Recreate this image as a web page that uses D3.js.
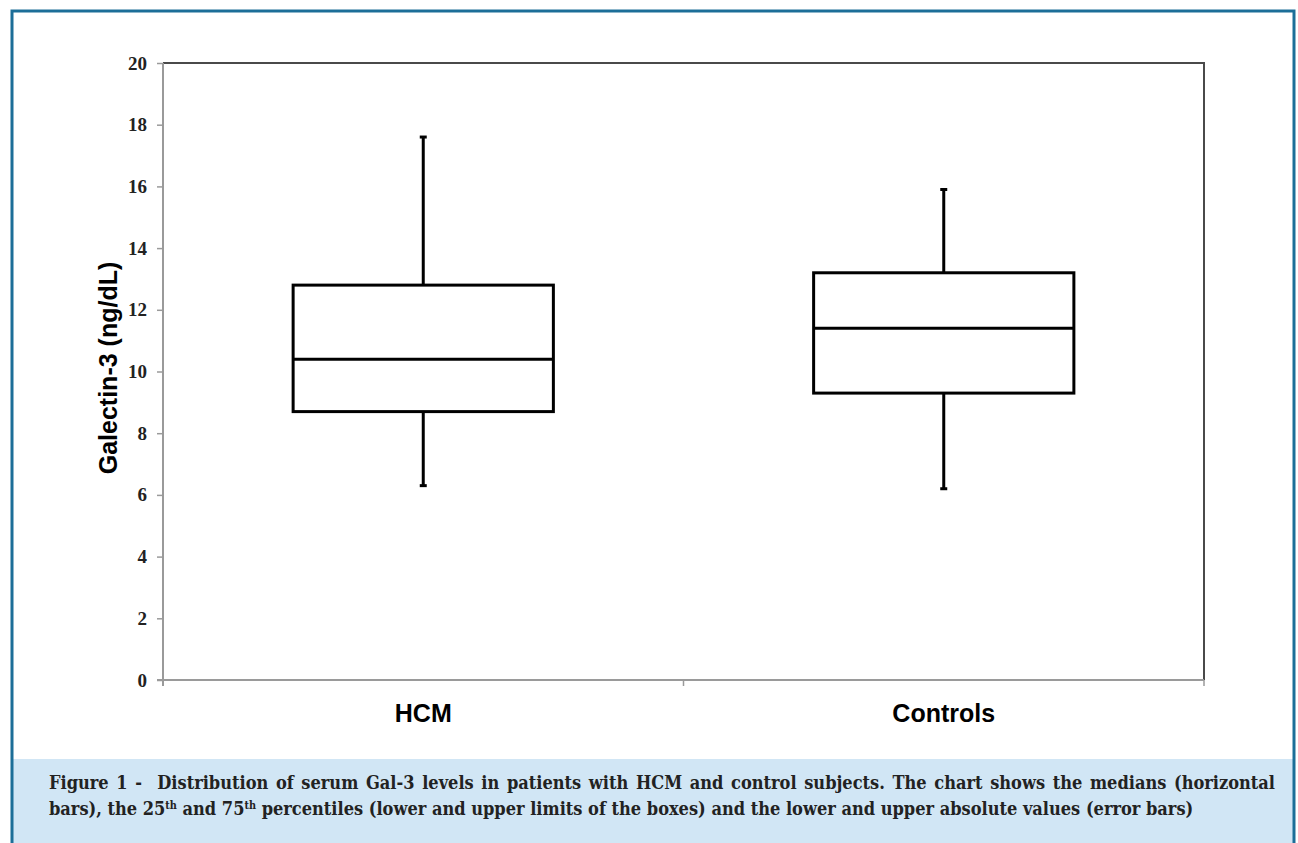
<!doctype html>
<html lang="en">
<head>
<meta charset="UTF-8">
<title>Galectin-3 box plot</title>
<style>
  body { margin: 0; background: #fff; }
  svg { display: block; }
</style>
</head>
<body>
<svg id="chart" width="1298" height="843"></svg>
<script src="https://d3js.org/d3.v7.min.js"></script>
<script>
    // values (ng/dL)
    let groups = ["HCM", "Controls"];
    let minVals = [6.3, 6.2];
    let q1Vals = [8.7, 9.3];
    let medians = [10.4, 11.4];
    let q3Vals = [12.8, 13.2];
    let maxVals = [17.6, 15.9];
    let yTicks = [0, 2, 4, 6, 8, 10, 12, 14, 16, 18, 20];

    let data = groups.map((g, i) => ({
        name: g, min: minVals[i], q1: q1Vals[i], med: medians[i], q3: q3Vals[i], max: maxVals[i]
    }));

    let svg = d3.select("#chart"),
        margin = {top: 63, right: 94, bottom: 163, left: 163},
        width = +svg.attr("width"),
        height = +svg.attr("height");

    // outer frame + caption band
    svg.append("rect")
        .attr("x", 0).attr("y", 0).attr("width", width).attr("height", height)
        .attr("fill", "#fff");
    svg.append("rect")
        .attr("x", 13).attr("y", 759).attr("width", 1280).attr("height", 90)
        .attr("fill", "#d1e6f5");
    svg.append("rect")
        .attr("x", 12).attr("y", 11).attr("width", 1282).attr("height", 850)
        .attr("fill", "none")
        .attr("stroke", "#1c6e98")
        .attr("stroke-width", 3);

    let x = d3.scaleBand()
        .domain(groups)
        .range([margin.left, width - margin.right]);

    let y = d3.scaleLinear()
        .domain([0, 20])
        .range([height - margin.bottom, margin.top]);

    // top and right frame of the plot
    svg.append("path")
        .attr("d", "M" + margin.left + "," + y(20) + "H" + (width - margin.right) + "V" + y(0))
        .attr("fill", "none")
        .attr("stroke", "#4a4a4a")
        .attr("stroke-width", 2);

    // y axis
    let yAxis = svg.append("g")
        .attr("transform", "translate(" + margin.left + ",0)")
        .call(d3.axisLeft(y).tickValues(yTicks).tickSize(6).tickSizeOuter(0).tickPadding(10));
    yAxis.select(".domain").remove();
    yAxis.append("line")
        .attr("x1", 0).attr("x2", 0)
        .attr("y1", y(20)).attr("y2", y(0) + 6)
        .attr("stroke", "#9a9a9a").attr("stroke-width", 2);
    yAxis.selectAll(".tick line").attr("stroke", "#9a9a9a").attr("stroke-width", 1.5);
    yAxis.selectAll(".tick text")
        .attr("fill", "#222")
        .attr("font-family", "'Liberation Serif', 'Times New Roman', serif")
        .attr("font-weight", "bold")
        .attr("font-size", "19px");

    // x axis, ticks on band edges
    let xAxis = svg.append("g")
        .attr("transform", "translate(0," + y(0) + ")");
    xAxis.append("line")
        .attr("x1", margin.left - 6).attr("x2", width - margin.right)
        .attr("stroke", "#9a9a9a").attr("stroke-width", 2);
    let edges = groups.map(g => x(g)).concat([x(groups[groups.length - 1]) + x.bandwidth()]);
    xAxis.selectAll(".edge")
        .data(edges)
        .enter().append("line")
        .attr("x1", d => d).attr("x2", d => d)
        .attr("y1", 0).attr("y2", 6)
        .attr("stroke", "#9a9a9a").attr("stroke-width", 1.5);
    xAxis.selectAll(".lbl")
        .data(groups)
        .enter().append("text")
        .attr("x", d => x(d) + x.bandwidth() / 2)
        .attr("y", 42)
        .attr("text-anchor", "middle")
        .attr("font-family", "'Liberation Sans', Arial, sans-serif")
        .attr("font-weight", "bold")
        .attr("font-size", "25px")
        .attr("fill", "#000")
        .text(d => d);

    // y label
    svg.append("text")
        .attr("transform", "translate(117,368) rotate(-90)")
        .attr("text-anchor", "middle")
        .attr("font-family", "'Liberation Sans', Arial, sans-serif")
        .attr("font-weight", "bold")
        .attr("font-size", "25px")
        .attr("fill", "#000")
        .text("Galectin-3 (ng/dL)");

    // boxes
    let boxW = x.bandwidth() / 2;
    let capW = 7;
    let box = svg.append("g")
        .selectAll("g")
        .data(data)
        .enter().append("g")
        .attr("fill", "none")
        .attr("stroke", "#000")
        .attr("stroke-width", 3);

    box.append("line")
        .attr("x1", d => x(d.name) + x.bandwidth() / 2)
        .attr("x2", d => x(d.name) + x.bandwidth() / 2)
        .attr("y1", d => y(d.max))
        .attr("y2", d => y(d.min));
    box.append("rect")
        .attr("x", d => x(d.name) + (x.bandwidth() - boxW) / 2)
        .attr("width", boxW)
        .attr("y", d => y(d.q3))
        .attr("height", d => y(d.q1) - y(d.q3))
        .attr("fill", "#fff");
    box.append("line")
        .attr("x1", d => x(d.name) + (x.bandwidth() - boxW) / 2)
        .attr("x2", d => x(d.name) + (x.bandwidth() + boxW) / 2)
        .attr("y1", d => y(d.med))
        .attr("y2", d => y(d.med));
    ["max", "min"].forEach(function (k) {
        box.append("line")
            .attr("x1", d => x(d.name) + x.bandwidth() / 2 - capW / 2)
            .attr("x2", d => x(d.name) + x.bandwidth() / 2 + capW / 2)
            .attr("y1", d => y(d[k]))
            .attr("y2", d => y(d[k]));
    });

    // caption: justified first line, second line at natural width
    const capFont = "'DejaVu Serif Condensed', 'DejaVu Serif', serif";
    const line1 = "Figure 1 -  Distribution of serum Gal-3 levels in patients with HCM and control subjects. The chart shows the medians (horizontal";
    let l1 = svg.append("text")
        .attr("x", 49).attr("y", 789)
        .attr("font-family", capFont)
        .attr("font-stretch", "condensed")
        .attr("font-weight", "bold")
        .attr("font-size", "16px")
        .attr("fill", "#222")
        .attr("xml:space", "preserve")
        .text(line1);
    let fs = 16 * 1185 / l1.node().getComputedTextLength();
    l1.attr("font-size", fs + "px");
    let w1 = l1.node().getComputedTextLength();
    let spaces = line1.split(" ").length - 1;
    l1.attr("word-spacing", ((1226 - w1) / spaces) + "px");

    let l2 = svg.append("text")
        .attr("x", 49).attr("y", 815)
        .attr("font-family", capFont)
        .attr("font-stretch", "condensed")
        .attr("font-weight", "bold")
        .attr("font-size", fs + "px")
        .attr("fill", "#222");
    l2.append("tspan").text("bars), the 25");
    l2.append("tspan").attr("font-size", (fs * 0.6) + "px").attr("dy", -6).text("th");
    l2.append("tspan").attr("dy", 6).text(" and 75");
    l2.append("tspan").attr("font-size", (fs * 0.6) + "px").attr("dy", -6).text("th");
    l2.append("tspan").attr("dy", 6).text(" percentiles (lower and upper limits of the boxes) and the lower and upper absolute values (error bars)");
</script>
</body>
</html>
